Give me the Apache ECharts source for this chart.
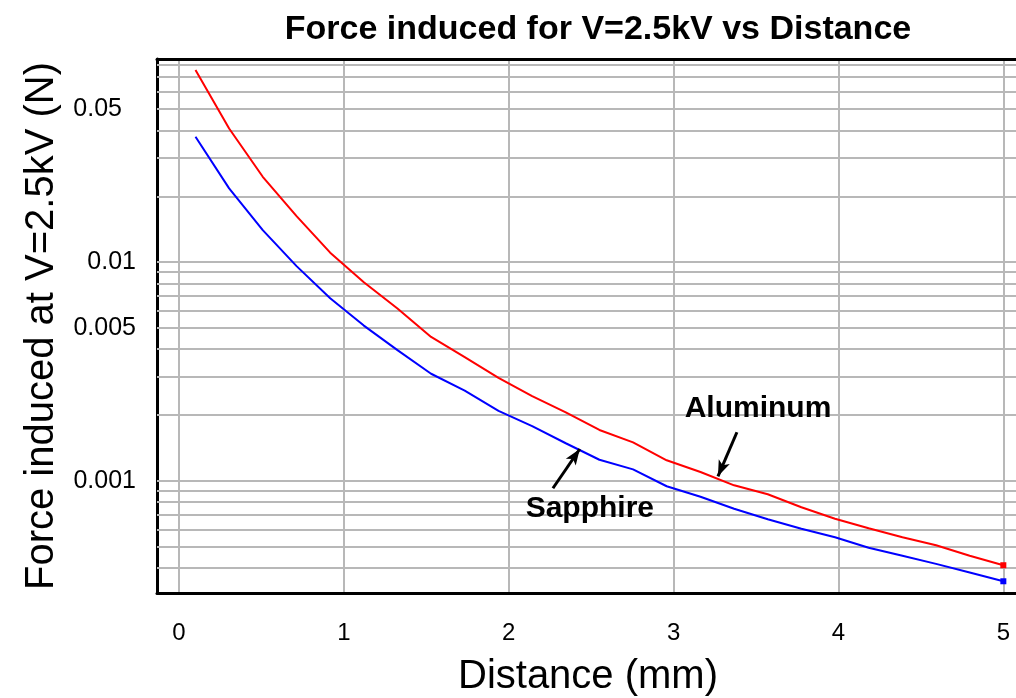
<!DOCTYPE html>
<html>
<head>
<meta charset="utf-8">
<script src="https://cdn.jsdelivr.net/npm/echarts@6/dist/echarts.min.js"></script>
<style>
html,body{margin:0;padding:0;background:#fff;}
#chart{width:1016px;height:698px;}
</style>
</head>
<body>
<div id="chart"></div>
<script>
// ---- data ----
const distance = [0.1, 0.304, 0.508, 0.713, 0.917, 1.121, 1.325, 1.529, 1.733, 1.938, 2.142, 2.346, 2.55, 2.754, 2.958, 3.163, 3.367, 3.571, 3.775, 3.979, 4.183, 4.388, 4.592, 4.796, 5.0];
const aluminum = [0.0755, 0.0408, 0.02455, 0.01623, 0.01105, 0.0081, 0.00614, 0.00455, 0.00368, 0.00296, 0.00244, 0.00206, 0.00171, 0.0015, 0.001243, 0.001099, 0.000955, 0.000869, 0.000758, 0.000672, 0.000608, 0.000553, 0.000508, 0.000455, 0.000412];
const sapphire = [0.0374, 0.02173, 0.014, 0.00959, 0.00684, 0.00513, 0.00396, 0.00309, 0.00259, 0.00209, 0.00178, 0.001487, 0.00125, 0.00113, 0.000946, 0.000847, 0.000746, 0.000668, 0.000605, 0.000553, 0.000495, 0.000455, 0.000418, 0.000382, 0.000348];
const yGridValues = [0.0004, 0.0005, 0.0006, 0.0007, 0.0008, 0.0009, 0.001, 0.002, 0.003, 0.004, 0.005, 0.006, 0.007, 0.008, 0.009, 0.01, 0.02, 0.03, 0.04, 0.05, 0.06, 0.07, 0.08];
const yTickLabels = ['0.05', '0.01', '0.005', '0.001'];
const xRange = [-0.1335, 5.095];
const yRange = [0.0003076, 0.0848];
// annotation anchors (data coordinates)
const alArrow = [[3.384, 0.00167], [3.269, 0.00105]];
const saArrow = [[2.268, 0.000926], [2.431, 0.0014]];
const alText = [3.512, 0.00213];
const saText = [2.492, 0.00075];

const FONT = "'Liberation Sans', Arial, sans-serif";
const chart = echarts.init(document.getElementById('chart'), null, {renderer: 'canvas'});

function mkData(ys) {
  return distance.map((x, i) => {
    const item = {value: [x, ys[i]]};
    if (i === distance.length - 1) { item.symbol = 'rect'; item.symbolSize = 6; }
    return item;
  });
}

const gridLines = yGridValues.map(v => {
  const txt = yTickLabels.find(t => parseFloat(t) === v);
  return {
    yAxis: v,
    label: txt ? {show: true, formatter: txt, position: 'start', distance: txt === '0.05' ? 35 : 21,
      color: '#000', fontSize: 25, fontFamily: FONT} : {show: false}
  };
});

chart.setOption({
  animation: false,
  backgroundColor: '#fff',
  title: {
    text: 'Force induced for V=2.5kV vs Distance',
    left: 593, top: 8, textAlign: 'center',
    textStyle: {fontFamily: FONT, fontWeight: 'bold', fontSize: 34, color: '#000'}
  },
  grid: {left: 157, right: -3, top: 59, bottom: 105, containLabel: false, outerBoundsMode: 'none'},
  xAxis: [{
    type: 'value', min: xRange[0], max: xRange[1], minInterval: 1, maxInterval: 1,
    name: 'Distance (mm)', nameLocation: 'middle', nameGap: 64,
    nameTextStyle: {fontFamily: FONT, fontSize: 40, color: '#000'},
    axisLine: {show: true, onZero: false, lineStyle: {color: '#000', width: 3}},
    axisTick: {show: false},
    axisLabel: {show: true, margin: 28, color: '#000', fontSize: 24, fontFamily: FONT, showMinLabel: false, showMaxLabel: false},
    splitLine: {show: true, lineStyle: {color: '#b8b8b8', width: 2}}
  }, {
    type: 'value', position: 'top', min: xRange[0], max: xRange[1],
    axisLine: {show: true, onZero: false, lineStyle: {color: '#000', width: 3}},
    axisTick: {show: false}, axisLabel: {show: false}, splitLine: {show: false}
  }],
  yAxis: {
    type: 'log', logBase: 10, min: yRange[0], max: yRange[1],
    name: 'Force induced at V=2.5kV (N)', nameLocation: 'middle', nameGap: 95,
    nameTextStyle: {fontFamily: FONT, fontSize: 40, color: '#000'},
    axisLine: {show: true, onZero: false, lineStyle: {color: '#000', width: 3}},
    axisTick: {show: false}, axisLabel: {show: false}, splitLine: {show: false}
  },
  series: [{
    name: 'grid', type: 'line', data: [], silent: true, z: 1,
    markLine: {
      silent: true, z: 1, precision: 8, symbol: ['none', 'none'], animation: false,
      lineStyle: {color: '#b8b8b8', width: 2, type: 'solid'},
      emphasis: {disabled: true},
      data: gridLines
    }
  }, {
    name: 'Aluminum', type: 'line', z: 3, data: mkData(aluminum),
    symbol: 'none', showSymbol: true, color: '#ff0000',
    lineStyle: {color: '#ff0000', width: 2}, itemStyle: {color: '#ff0000'},
    markLine: {
      silent: true, z: 6, precision: 8, symbol: ['none', 'arrow'], symbolSize: [9, 16],
      lineStyle: {color: '#000', width: 3, type: 'solid'}, label: {show: false},
      data: [[{coord: alArrow[0]}, {coord: alArrow[1]}]]
    },
    markPoint: {
      silent: true, z: 6, symbol: 'rect', symbolSize: 1, itemStyle: {color: 'rgba(0,0,0,0)'},
      label: {show: true, position: 'inside', formatter: 'Aluminum', color: '#000', fontSize: 30, fontWeight: 'bold', fontFamily: FONT},
      data: [{coord: alText}]
    }
  }, {
    name: 'Sapphire', type: 'line', z: 3, data: mkData(sapphire),
    symbol: 'none', showSymbol: true, color: '#0000ff',
    lineStyle: {color: '#0000ff', width: 2}, itemStyle: {color: '#0000ff'},
    markLine: {
      silent: true, z: 6, precision: 8, symbol: ['none', 'arrow'], symbolSize: [9, 16],
      lineStyle: {color: '#000', width: 3, type: 'solid'}, label: {show: false},
      data: [[{coord: saArrow[0]}, {coord: saArrow[1]}]]
    },
    markPoint: {
      silent: true, z: 6, symbol: 'rect', symbolSize: 1, itemStyle: {color: 'rgba(0,0,0,0)'},
      label: {show: true, position: 'inside', formatter: 'Sapphire', color: '#000', fontSize: 30, fontWeight: 'bold', fontFamily: FONT},
      data: [{coord: saText}]
    }
  }]
});
</script>
</body>
</html>
